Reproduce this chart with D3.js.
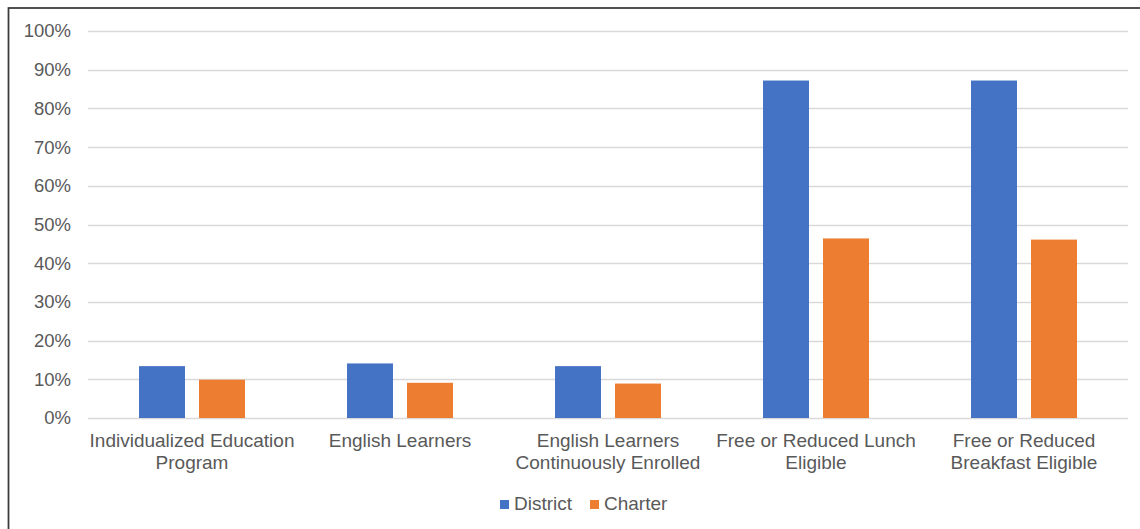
<!DOCTYPE html>
<html>
<head>
<meta charset="utf-8">
<script src="https://cdn.jsdelivr.net/npm/d3@7"></script>
<style>
  body { margin: 0; background: #fff; }
  svg { display: block; font-family: "Liberation Sans", Arial, sans-serif; }
</style>
</head>
<body>
<div id="chart"></div>
<script>
const categories = [
  ["Individualized Education", "Program"],
  ["English Learners"],
  ["English Learners", "Continuously Enrolled"],
  ["Free or Reduced Lunch", "Eligible"],
  ["Free or Reduced", "Breakfast Eligible"]
];
const seriesNames = ["District", "Charter"];
const district = [13.4, 14.1, 13.4, 87.2, 87.2];
const charter = [9.9, 9.1, 8.9, 46.4, 46.1];
const yTicks = [0, 10, 20, 30, 40, 50, 60, 70, 80, 90, 100];

const colors = { District: "#4472c4", Charter: "#ed7d31" };
const width = 1140, height = 529;
const plot = { left: 88, right: 1128, top: 31, bottom: 418 };

const svg = d3.select("#chart").append("svg")
  .attr("width", width)
  .attr("height", height);

// outer frame (cropped on right/bottom like the screenshot)
svg.append("rect")
  .attr("x", 8.5).attr("y", 8)
  .attr("width", width + 20).attr("height", height + 20)
  .attr("fill", "#fff")
  .attr("stroke", "#3a3a3a")
  .attr("stroke-width", 1.75);

const x0 = d3.scaleBand()
  .domain(d3.range(categories.length))
  .range([plot.left, plot.right])
  .paddingInner(0)
  .paddingOuter(0);

const y = d3.scaleLinear().domain([0, 100]).range([plot.bottom, plot.top]);

// gridlines
svg.append("g")
  .selectAll("line")
  .data(yTicks)
  .enter()
  .append("line")
  .attr("x1", plot.left)
  .attr("x2", plot.right)
  .attr("y1", d => Math.round(y(d)) + 0.5)
  .attr("y2", d => Math.round(y(d)) + 0.5)
  .style("stroke", "#d9d9d9")
  .style("stroke-width", 1.3);

// y axis labels
const yAxis = d3.axisLeft(y).tickValues(yTicks).tickFormat(d => d + "%").tickSize(0).tickPadding(0);
const yg = svg.append("g")
  .attr("transform", `translate(71,0)`)
  .call(yAxis);
yg.select(".domain").remove();
yg.selectAll("text")
  .attr("fill", "#595959")
  .style("font-size", "18.5px")
  .style("font-family", "'Liberation Sans', Arial, sans-serif");

// bars
const band = x0.bandwidth();
const barW = band * 46 / 208;
const gap = band * 14 / 208;
const x1 = d3.scaleOrdinal()
  .domain(seriesNames)
  .range([band / 2 - gap / 2 - barW, band / 2 + gap / 2]);

const rows = categories.map((c, i) => ({ i, District: district[i], Charter: charter[i] }));

const groups = svg.append("g")
  .selectAll("g")
  .data(rows)
  .enter()
  .append("g")
  .attr("transform", d => `translate(${x0(d.i)},0)`);

groups.selectAll("rect")
  .data(d => seriesNames.map(s => ({ s, v: d[s] })))
  .enter()
  .append("rect")
  .attr("x", d => x1(d.s))
  .attr("y", d => y(d.v))
  .attr("width", barW)
  .attr("height", d => y(0) - y(d.v))
  .attr("fill", d => colors[d.s]);

// category labels
const labels = svg.append("g")
  .selectAll("text")
  .data(categories)
  .enter()
  .append("text")
  .attr("x", (d, i) => x0(i) + band / 2)
  .attr("y", 447)
  .attr("text-anchor", "middle")
  .attr("fill", "#595959")
  .style("font-size", "19px");
labels.selectAll("tspan")
  .data(d => d)
  .enter()
  .append("tspan")
  .attr("x", function () { return this.parentNode.getAttribute("x"); })
  .attr("dy", (d, i) => i === 0 ? 0 : 22)
  .text(d => d);

// legend
const legendItems = [
  { name: "District", x: 500 },
  { name: "Charter", x: 590 }
];
const lg = svg.append("g");
lg.selectAll("rect")
  .data(legendItems)
  .enter()
  .append("rect")
  .attr("x", d => d.x)
  .attr("y", 500)
  .attr("width", 9)
  .attr("height", 9)
  .attr("fill", d => colors[d.name]);
lg.selectAll("text")
  .data(legendItems)
  .enter()
  .append("text")
  .attr("x", d => d.x + 14)
  .attr("y", 510)
  .attr("fill", "#595959")
  .style("font-size", "19px")
  .text(d => d.name);
</script>
</body>
</html>
